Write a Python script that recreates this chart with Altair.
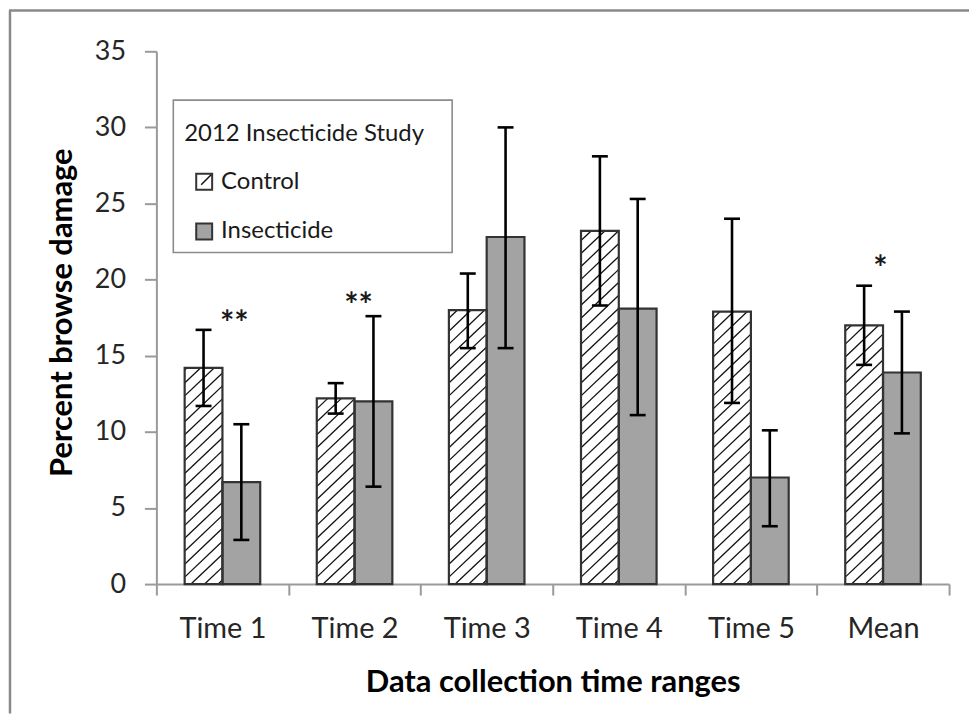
import altair as alt
import pandas as pd

# ---------------- data ----------------
categories = ["Time 1", "Time 2", "Time 3", "Time 4", "Time 5", "Mean"]
groups = ["Control", "Insecticide"]

control = [14.2, 12.2, 18.0, 23.2, 17.9, 17.0]
control_lo = [11.7, 11.2, 15.5, 18.3, 11.9, 14.4]
control_hi = [16.7, 13.2, 20.4, 28.1, 24.0, 19.6]

insecticide = [6.7, 12.0, 22.8, 18.1, 7.0, 13.9]
insecticide_lo = [2.9, 6.4, 15.5, 11.1, 3.8, 9.9]
insecticide_hi = [10.5, 17.6, 30.0, 25.3, 10.1, 17.9]

star_labels = ["**", "**", "*"]
star_x = [0.59, 1.53, 5.48]
star_y = [17.6, 18.8, 21.2]

x_title = "Data collection time ranges"
y_title = "Percent browse damage"
legend_title = "2012 Insecticide Study"

# ---------------- layout constants ----------------
W, H = 796, 535
XMAX, YMAX = 6, 35
PXU = W / XMAX
PYU = H / YMAX
BAR_W = 0.286
CAP_HALF = 8 / PXU
FONT = "Lato"
GRAY_FILL = "#a3a3a3"
OUTLINE = "#333333"

rows = []
for i, c in enumerate(categories):
    rows.append(dict(cat=c, group="Control", x0=i + 0.5 - BAR_W, x1=i + 0.5,
                     v=control[i], lo=control_lo[i], hi=control_hi[i]))
    rows.append(dict(cat=c, group="Insecticide", x0=i + 0.5, x1=i + 0.5 + BAR_W,
                     v=insecticide[i], lo=insecticide_lo[i], hi=insecticide_hi[i]))
bars = pd.DataFrame(rows)
bars["xc"] = (bars["x0"] + bars["x1"]) / 2
bars["cl"] = bars["xc"] - CAP_HALF
bars["cr"] = bars["xc"] + CAP_HALF

# hatch lines ("/") inside the control bars, computed in pixel space
SP = 13.0
S = 0.95
hatch = []
for _, r in bars[bars["group"] == "Control"].iterrows():
    pa, pb, top = r["x0"] * PXU, r["x1"] * PXU, r["v"] * PYU
    c = -S * (pb - pa) + 4
    while c < top:
        plo = max(pa, pa + (0 - c) / S)
        phi = min(pb, pa + (top - c) / S)
        if phi > plo:
            hatch.append(dict(hx=plo / PXU, hy=(S * (plo - pa) + c) / PYU,
                              hx2=phi / PXU, hy2=(S * (phi - pa) + c) / PYU))
        c += SP
hatch = pd.DataFrame(hatch)

stars = pd.DataFrame(dict(t=star_labels, x=star_x, y=star_y))

xscale = alt.Scale(domain=[0, XMAX], nice=False, zero=False)
yscale = alt.Scale(domain=[0, YMAX], nice=False)

label_arr = "[" + ",".join("'" + c + "'" for c in categories) + "]"
x_axis = alt.Axis(
    values=[k / 2 for k in range(0, 2 * XMAX + 1)],
    labelExpr=f"datum.value % 1 == 0.5 ? {label_arr}[floor(datum.value)] : ''",
    tickOpacity={"condition": {"test": "datum.value % 1 != 0", "value": 0}, "value": 1},
    labelOverlap=False, labelFlush=False, grid=False,
    domainColor="#9a9a9a", domainWidth=2, tickColor="#9a9a9a", tickWidth=2, tickSize=11,
    labelFont=FONT, labelFontSize=29, labelColor="#262626", labelBaseline="middle",
    labelPadding=34,
    title=x_title, titleFont=FONT, titleFontSize=31, titleFontWeight="bold",
    titleColor="#000000", titleY=99, titleBaseline="middle",
)
y_axis = alt.Axis(
    values=list(range(0, YMAX + 1, 5)), grid=False, labelFlush=False,
    domainColor="#9a9a9a", domainWidth=2, tickColor="#9a9a9a", tickWidth=2, tickSize=12,
    labelFont=FONT, labelFontSize=27, labelColor="#262626", labelPadding=19,
    title=y_title, titleFont=FONT, titleFontSize=31, titleFontWeight="bold",
    titleColor="#000000", titleAngle=270, titleX=-94, titleY=262,
    titleAlign="center", titleBaseline="middle",
)

def X(field):
    return alt.X(field, scale=xscale, axis=x_axis)

def Y(field):
    return alt.Y(field, scale=yscale, axis=y_axis)

base = alt.Chart(bars)

fills = base.mark_rect(strokeWidth=0).encode(
    x=X("x0:Q"), x2="x1:Q",
    y=Y("v:Q"), y2=alt.datum(0),
    color=alt.Color("group:N", scale=alt.Scale(domain=groups, range=["white", GRAY_FILL]),
                    legend=None),
)

hatch_layer = alt.Chart(hatch).mark_rule(color="#111111", strokeWidth=1.3).encode(
    x=X("hx:Q"), x2="hx2:Q",
    y=Y("hy:Q"), y2="hy2:Q",
)

outlines = base.mark_rect(fillOpacity=0, stroke=OUTLINE, strokeWidth=2.2).encode(
    x=X("x0:Q"), x2="x1:Q",
    y=Y("v:Q"), y2=alt.datum(0),
)

err_v = base.mark_rule(color="#000000", strokeWidth=2.6).encode(
    x=X("xc:Q"), y=Y("lo:Q"), y2="hi:Q",
)
cap_lo = base.mark_rule(color="#000000", strokeWidth=2.6).encode(
    x=X("cl:Q"), x2="cr:Q", y=Y("lo:Q"),
)
cap_hi = base.mark_rule(color="#000000", strokeWidth=2.6).encode(
    x=X("cl:Q"), x2="cr:Q", y=Y("hi:Q"),
)

star_layer = alt.Chart(stars).mark_text(
    font=FONT, fontSize=34, fontWeight="bold", color="#1a1a1a",
    baseline="alphabetic", dy=19, align="center",
).encode(
    x=X("x:Q"), y=Y("y:Q"), text="t:N",
)

one = alt.Chart(pd.DataFrame({"k": [0]}))

# outer frame (left and top edges)
frame_left = one.mark_rule(color="#8a8a8a", strokeWidth=2.5).encode(
    x=alt.value(-147), y=alt.value(-41), y2=alt.value(H + 130))
frame_top = one.mark_rule(color="#8a8a8a", strokeWidth=2.5).encode(
    x=alt.value(-148), x2=alt.value(W + 20), y=alt.value(-41))

# legend box
leg_box = one.mark_rect(fill="white", stroke="#8c8c8c", strokeWidth=1.6).encode(
    x=alt.value(17), x2=alt.value(297), y=alt.value(49), y2=alt.value(202))
leg_title = one.mark_text(font=FONT, fontSize=24, color="#1a1a1a", align="left",
                          baseline="middle").encode(
    x=alt.value(28), y=alt.value(83), text=alt.value(legend_title))
leg_sym1 = one.mark_rect(fill="white", stroke=OUTLINE, strokeWidth=2).encode(
    x=alt.value(40), x2=alt.value(56), y=alt.value(123), y2=alt.value(139))
leg_sym1_d = one.mark_rule(color="#111111", strokeWidth=1.5).encode(
    x=alt.value(45), x2=alt.value(55), y=alt.value(134), y2=alt.value(124))
leg_sym2 = one.mark_rect(fill=GRAY_FILL, stroke=OUTLINE, strokeWidth=2).encode(
    x=alt.value(40), x2=alt.value(56), y=alt.value(173), y2=alt.value(189))
leg_t1 = one.mark_text(font=FONT, fontSize=24, color="#1a1a1a", align="left",
                       baseline="middle").encode(
    x=alt.value(65), y=alt.value(131), text=alt.value(groups[0]))
leg_t2 = one.mark_text(font=FONT, fontSize=24, color="#1a1a1a", align="left",
                       baseline="middle").encode(
    x=alt.value(65), y=alt.value(180), text=alt.value(groups[1]))

chart = alt.layer(
    fills, hatch_layer, outlines, err_v, cap_lo, cap_hi, star_layer,
    frame_left, frame_top,
    leg_box, leg_title, leg_sym1, leg_sym1_d, leg_sym2, leg_t1, leg_t2,
).properties(
    width=W, height=H,
    autosize=alt.AutoSizeParams(type="none"),
    padding={"left": 149, "top": 42, "right": 20, "bottom": 130},
    background="white",
).configure_view(stroke=None)

chart.save("out.html", embed_options={"renderer": "svg", "actions": False})
